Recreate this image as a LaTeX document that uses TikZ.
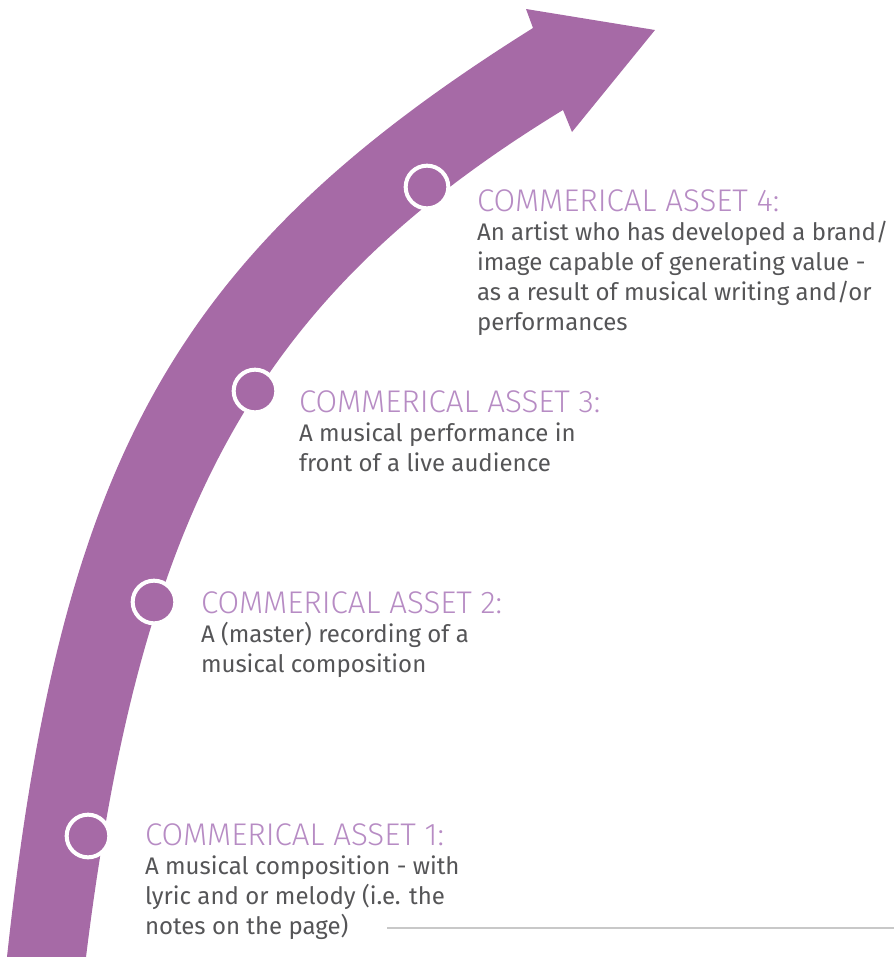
\documentclass[tikz,border=0pt]{standalone}
\usepackage{fontspec}
\setmainfont{Fira Sans}
\newfontfamily\titlefont{Fira Sans Light}
\newfontfamily\bodyfont{Fira Sans}
\definecolor{arrowc}{RGB}{166,106,166}
\definecolor{titlec}{RGB}{183,140,196}
\definecolor{bodyc}{RGB}{85,85,87}
\definecolor{rulec}{RGB}{200,200,200}
\newcommand{\assettext}[2]{\vtop{\baselineskip=22.5pt\hbox{\titlefont\fontsize{23.5}{22.5}\selectfont\color{titlec}#1}\vskip-0.75pt #2}}
\newcommand{\bl}[1]{\hbox{\bodyfont\fontsize{18}{22.5}\selectfont\color{bodyc}#1}}
\begin{document}
\begin{tikzpicture}[x=0.75pt,y=-0.75pt,
  dot/.style={circle,fill=arrowc,draw=white,line width=3pt,minimum size=32pt,inner sep=0pt},
  asset/.style={anchor=base west,inner sep=0pt,outer sep=0pt},
  rule/.style={draw=rulec,line width=1.5pt}]
\useasboundingbox (0,0) rectangle (894,957);
\fill[arrowc] (7,957) .. controls (61,456) and (177,251) .. (533,28)
  -- (526,9) -- (655,30) -- (572,132) -- (563,110)
  .. controls (260,295) and (142,504) .. (86,957) -- cycle;
\node[dot] (c1) at (88,836) {};
\node[dot] (c2) at (154,602) {};
\node[dot] (c3) at (255,391) {};
\node[dot] (c4) at (427,187) {};
\node[asset] (t1) at (145,845) {\assettext{COMMERICAL ASSET 1:}{\bl{A musical composition - with}\bl{lyric and or melody (i.e. the}\bl{notes on the page)}}};
\node[asset] (t2) at (201,613) {\assettext{COMMERICAL ASSET 2:}{\bl{A (master) recording of a}\bl{musical composition}}};
\node[asset] (t3) at (299,412) {\assettext{COMMERICAL ASSET 3:}{\bl{A musical performance in}\bl{front of a live audience}}};
\node[asset] (t4) at (477,211) {\assettext{COMMERICAL ASSET 4:}{\bl{An artist who has developed a brand/}\bl{image capable of generating value -}\bl{as a result of musical writing and/or}\bl{performances}}};
\coordinate (r1) at (387,928);
\coordinate (r2) at (894,928);
\draw[rule] (r1) -- (r2);
\end{tikzpicture}
\end{document}
